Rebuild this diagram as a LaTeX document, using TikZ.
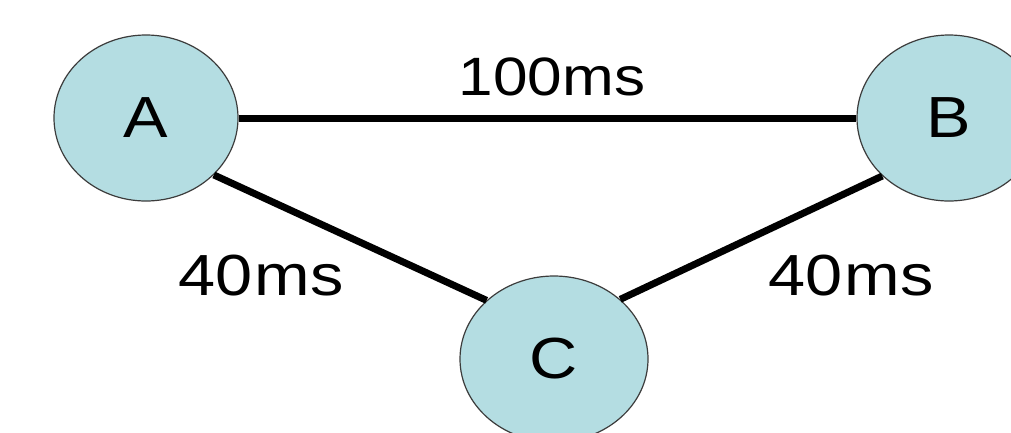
\documentclass[tikz,border=0pt]{standalone}
\usepackage{fontspec}
\usetikzlibrary{shapes.geometric}
\newfontfamily\labfont[FakeStretch=1.15]{Liberation Sans}
\definecolor{nodefill}{RGB}{180,221,226}
\definecolor{nodeline}{RGB}{60,60,60}
\tikzset{
  hostnode/.style={ellipse, draw=nodeline, line width=1.2pt, fill=nodefill,
    minimum width=184pt, minimum height=166pt, inner sep=0pt,
    font=\labfont\fontsize{58}{60}\selectfont},
  link/.style={line width=7pt, black},
  delay/.style={inner sep=0pt, font=\labfont\fontsize{58}{60}\selectfont},
}
\begin{document}
\begin{tikzpicture}[x=1pt, y=-1pt]
  \useasboundingbox (0,0) rectangle (1011,432);
  \fill[white] (0,0) rectangle (1011,432);

  % hosts
  \node[hostnode] (A) at (146,118) {A};
  \node[hostnode] (B) at (949,118) {B};
  \node[hostnode, minimum width=188pt] (C) at (554,359) {C};

  % links
  \draw[link] (A.east) -- (B.west);
  \draw[link] (A.-40.7) -- (C.139.6);
  \draw[link] (B.-139.3) -- (C.42.7);

  % delays
  \node[delay, font=\labfont\fontsize{54}{56}\selectfont] (lab) at (552,77) {100ms};
  \node[delay] (lac) at (261,276) {40\kern2pt ms};
  \node[delay] (lbc) at (851,276) {40\kern2pt ms};
\end{tikzpicture}
\end{document}
